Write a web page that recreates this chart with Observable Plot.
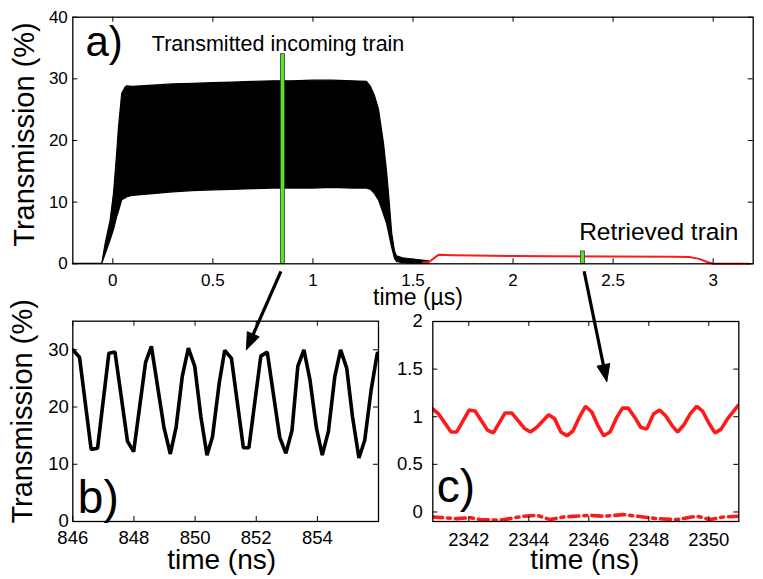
<!DOCTYPE html>
<html><head><meta charset="utf-8">
<script src="https://cdn.jsdelivr.net/npm/d3@7"></script>
<script src="https://cdn.jsdelivr.net/npm/@observablehq/plot@0.6"></script>
<style>
body{margin:0;background:#fff;}
#fig{position:relative;width:763px;height:579px;overflow:hidden;}
#fig > div{position:absolute;}
</style></head><body><div id="fig"></div>
<script>
const FONT = '"Liberation Sans", Arial, Helvetica, sans-serif';

// ---------- panel a (time in µs, transmission in %) ----------
const aTime  = [-0.2, -0.053, -0.036, -0.011, 0.006, 0.022, 0.031, 0.047, 0.064, 0.072, 0.1, 0.2, 0.3, 0.4, 0.5, 0.6, 0.7, 0.8, 0.9, 1.0, 1.1, 1.2, 1.27, 1.29, 1.31, 1.33, 1.355, 1.37, 1.38, 1.396, 1.41, 1.42, 1.45, 1.5, 1.55, 1.58];
const aUpper = [0, 0, 3.2, 7.0, 11.4, 18, 22.2, 27.6, 28.6, 28.8, 28.7, 28.9, 29.1, 29.2, 29.3, 29.4, 29.5, 29.6, 29.6, 29.7, 29.7, 29.6, 29.5, 28.7, 27.2, 25.0, 19.5, 15.0, 11.4, 4.9, 2.0, 1.2, 0.9, 0.7, 0.5, 0.4];
const aLower = [0, 0, 1.5, 3.8, 5.5, 7.6, 8.5, 10.3, 10.6, 10.8, 11.0, 11.3, 11.6, 11.8, 11.9, 12.0, 12.1, 12.2, 12.2, 12.2, 12.3, 12.2, 12.2, 12.0, 11.3, 10.3, 8.0, 6.5, 5.0, 2.6, 0.8, 0.3, 0.1, 0, 0, 0];
const redTime  = [1.55, 1.58, 1.627, 1.7, 1.8, 2.0, 2.2, 2.5, 2.8, 2.88, 2.93, 2.97, 3.0, 3.18];
const redValue = [0.2, 0.3, 1.45, 1.4, 1.35, 1.25, 1.22, 1.2, 1.15, 1.1, 0.8, 0.3, 0, 0];
const markerTime   = [0.85, 2.35];
const markerHeight = [34, 2];
const aXTicks = [0, 0.5, 1, 1.5, 2, 2.5, 3];
const aYTicks = [0, 10, 20, 30, 40];

// ---------- panel b (time in ns) ----------
const bTime  = [846.0, 846.22, 846.6, 846.81, 847.18, 847.38, 847.79, 847.99, 848.38, 848.57, 848.98, 849.19, 849.38, 849.58, 849.78, 849.99, 850.19, 850.39, 850.57, 850.79, 850.97, 851.19, 851.58, 851.76, 852.15, 852.36, 852.77, 852.97, 853.17, 853.36, 853.56, 853.76, 853.97, 854.16, 854.36, 854.57, 854.76, 854.96, 855.15, 855.36, 855.55, 855.76, 855.96];
const bValue = [30.0, 28.7, 12.6, 12.8, 29.4, 29.6, 14.0, 12.2, 27.8, 30.6, 16.5, 11.8, 16.5, 25.3, 30.3, 27.1, 18.3, 11.6, 14.8, 24.2, 29.9, 28.5, 12.9, 12.9, 28.9, 29.6, 14.7, 11.9, 15.9, 27.1, 30.0, 24.7, 16.3, 11.6, 15.7, 25.3, 30.0, 26.8, 18.3, 11.1, 14.2, 23.0, 29.4];
const bXTicks = [846, 848, 850, 852, 854];
const bYTicks = [0, 10, 20, 30];

// ---------- panel c (time in ns) ----------
const cTime  = [2340.79, 2340.99, 2341.41, 2341.6, 2342.01, 2342.21, 2342.62, 2342.82, 2343.21, 2343.43, 2343.85, 2344.05, 2344.27, 2344.66, 2344.86, 2345.07, 2345.27, 2345.47, 2345.68, 2345.89, 2346.1, 2346.3, 2346.5, 2346.71, 2346.91, 2347.12, 2347.32, 2347.54, 2347.73, 2347.93, 2348.16, 2348.36, 2348.56, 2348.77, 2348.96, 2349.16, 2349.38, 2349.6, 2349.79, 2349.99, 2350.21, 2350.41, 2350.63, 2350.98];
const cValue = [1.084, 1.03, 0.84, 0.84, 1.07, 1.06, 0.86, 0.83, 1.04, 1.04, 0.88, 0.84, 0.89, 1.02, 0.98, 0.84, 0.8, 0.85, 0.99, 1.11, 1.05, 0.91, 0.8, 0.84, 0.98, 1.09, 1.09, 0.99, 0.89, 0.87, 1.03, 1.07, 1.01, 0.91, 0.84, 0.91, 1.03, 1.11, 1.06, 0.94, 0.83, 0.87, 0.98, 1.12];
const cDashTime  = [2340.79, 2341.6, 2342.04, 2342.38, 2343.05, 2343.82, 2344.27, 2344.71, 2345.16, 2346.05, 2346.49, 2347.15, 2347.82, 2348.27, 2348.93, 2349.6, 2350.04, 2350.49, 2350.98];
const cDashValue = [-0.052, -0.07, -0.06, -0.08, -0.087, -0.045, -0.035, -0.08, -0.052, -0.035, -0.045, -0.028, -0.052, -0.07, -0.08, -0.045, -0.08, -0.052, -0.045];
const cXTicks = [2342, 2344, 2346, 2348, 2350];
const cYTicks = [0, 0.5, 1, 1.5, 2];

// ---------- arrows: from panel-a time (µs) to a point in panel b / c ----------
const arrowFromTime = [0.84, 2.355];
const arrowToPanel  = ["b", "c"];
const arrowToX      = [851.68, 2346.6];
const arrowToY      = [30, 1.37];

// ---------- helpers ----------
const fig = document.getElementById("fig");
function place(el, left, top, z) {
  const d = document.createElement("div");
  d.style.left = left + "px"; d.style.top = top + "px"; d.style.zIndex = z || 1;
  d.appendChild(el); fig.appendChild(d);
}
const svgStyle = {background: "transparent", fontFamily: FONT, overflow: "visible", maxWidth: "none"};
const plain = d => String(d);

function boxMarks(xTicks, yTicks, innerW, innerH, labelSize, xPad, yPad, frameW) {
  const t = 5;
  return [
    Plot.ruleX(xTicks, {stroke: "black", strokeWidth: 1, insetTop: innerH - t}),
    Plot.ruleX(xTicks, {stroke: "black", strokeWidth: 1, insetBottom: innerH - t}),
    Plot.ruleY(yTicks, {stroke: "black", strokeWidth: 1, insetRight: innerW - t}),
    Plot.ruleY(yTicks, {stroke: "black", strokeWidth: 1, insetLeft: innerW - t}),
    Plot.axisX(xTicks, {anchor: "bottom", tickSize: 0, tickPadding: xPad, fontSize: labelSize, tickFormat: plain, label: null}),
    Plot.axisY(yTicks, {anchor: "left", tickSize: 0, tickPadding: yPad, fontSize: labelSize, tickFormat: plain, label: null}),
    Plot.frame({stroke: "black", strokeWidth: frameW})
  ];
}

// ---------- panel a ----------
const A = {w: 763, h: 320, ml: 72.3, mr: 10.3, mt: 16.7, mb: 56.7};
const aInnerW = A.w - A.ml - A.mr, aInnerH = A.h - A.mt - A.mb;
const envelope = aTime.map((t, i) => ({t, lo: aLower[i], hi: aUpper[i]}));
const redA = redTime.map((t, i) => ({t, v: redValue[i]}));
const markers = markerTime.map((t, i) => ({t, h: markerHeight[i]}));
const plotA = Plot.plot({
  width: A.w, height: A.h, marginLeft: A.ml, marginRight: A.mr, marginTop: A.mt, marginBottom: A.mb,
  style: svgStyle,
  x: {domain: [-0.2, 3.2], label: null},
  y: {domain: [0, 40], label: null},
  marks: [
    Plot.areaY(envelope, {x: "t", y1: "lo", y2: "hi", fill: "black", stroke: "black", strokeWidth: 1.2, curve: "linear"}),
    Plot.lineY(redA, {x: "t", y: "v", stroke: "#ff1a1a", strokeWidth: 2}),
    Plot.rectY(markers, {x1: d => d.t - 0.01, x2: d => d.t + 0.01, y1: 0, y2: "h", fill: "#5ce02a", stroke: "#3c3c3c", strokeWidth: 0.8}),
    ...boxMarks(aXTicks, aYTicks, aInnerW, aInnerH, 17, 10, 5, 1.3),
    Plot.text(["a)"], {frameAnchor: "top-left", dx: 12.7, dy: 38.3, lineAnchor: "bottom", textAnchor: "start", fontSize: 42}),
    Plot.text(["Transmitted incoming train"], {frameAnchor: "top-left", dx: 79, dy: 34, lineAnchor: "bottom", textAnchor: "start", fontSize: 21.5}),
    Plot.text(["Retrieved train"], {frameAnchor: "bottom-right", dx: -14.7, dy: -23.3, lineAnchor: "bottom", textAnchor: "end", fontSize: 24.5}),
    Plot.text(["time (µs)"], {frameAnchor: "bottom", dx: 5, dy: 41.5, lineAnchor: "bottom", textAnchor: "middle", fontSize: 23}),
    Plot.text(["Transmission (%)"], {frameAnchor: "left", dx: -48.3, dy: -6, rotate: -90, lineAnchor: "middle", textAnchor: "middle", fontSize: 29})
  ]
});
place(plotA, 0, 0, 1);

// ---------- panel b ----------
const B = {w: 390, h: 279, ml: 72.3, mr: 12, mt: 20.7, mb: 58, left: 0, top: 300};
const bInnerW = B.w - B.ml - B.mr, bInnerH = B.h - B.mt - B.mb;
const bData = bTime.map((t, i) => ({t, v: bValue[i]}));
const plotB = Plot.plot({
  width: B.w, height: B.h, marginLeft: B.ml, marginRight: B.mr, marginTop: B.mt, marginBottom: B.mb,
  style: svgStyle,
  x: {domain: [846, 856], label: null},
  y: {domain: [0, 35], label: null},
  marks: [
    Plot.lineY(bData, {x: "t", y: "v", stroke: "black", strokeWidth: 3.6, strokeLinejoin: "miter", clip: true}),
    ...boxMarks(bXTicks, bYTicks, bInnerW, bInnerH, 18.5, 9, 4, 1.3),
    Plot.text(["b)"], {frameAnchor: "bottom-left", dx: 5, dy: -9, lineAnchor: "bottom", textAnchor: "start", fontSize: 46}),
    Plot.text(["time (ns)"], {frameAnchor: "bottom", dx: -4, dy: 47, lineAnchor: "bottom", textAnchor: "middle", fontSize: 28}),
    Plot.text(["Transmission (%)"], {frameAnchor: "left", dx: -49.8, dy: -10, rotate: -90, lineAnchor: "middle", textAnchor: "middle", fontSize: 29})
  ]
});
place(plotB, B.left, B.top, 2);

// ---------- panel c ----------
const C = {w: 373, h: 279, ml: 42.3, mr: 24.7, mt: 21, mb: 58, left: 390, top: 300};
const cInnerW = C.w - C.ml - C.mr, cInnerH = C.h - C.mt - C.mb;
const cData = cTime.map((t, i) => ({t, v: cValue[i]}));
const cDash = cDashTime.map((t, i) => ({t, v: cDashValue[i]}));
const plotC = Plot.plot({
  width: C.w, height: C.h, marginLeft: C.ml, marginRight: C.mr, marginTop: C.mt, marginBottom: C.mb,
  style: svgStyle,
  x: {domain: [2340.8, 2351], label: null},
  y: {domain: [-0.1, 2], label: null},
  marks: [
    Plot.lineY(cData, {x: "t", y: "v", stroke: "#ff1a1a", strokeWidth: 3.6, strokeLinejoin: "miter", clip: true}),
    Plot.lineY(cDash, {x: "t", y: "v", stroke: "#ff1a1a", strokeWidth: 3.6, strokeDasharray: "10,5,3,5", clip: true}),
    ...boxMarks(cXTicks, cYTicks, cInnerW, cInnerH, 18.5, 11, 10, 1.3),
    Plot.text(["c)"], {frameAnchor: "bottom-left", dx: 4, dy: -20, lineAnchor: "bottom", textAnchor: "start", fontSize: 46}),
    Plot.text(["time (ns)"], {frameAnchor: "bottom", dx: -1, dy: 47, lineAnchor: "bottom", textAnchor: "middle", fontSize: 28})
  ]
});
place(plotC, C.left, C.top, 2);

// ---------- arrows overlay, endpoints from the panels' own scales ----------
const ax = plotA.scale("x"), ay = plotA.scale("y");
const panels = {b: {p: plotB, left: B.left, top: B.top}, c: {p: plotC, left: C.left, top: C.top}};
const shafts = [], heads = [];
arrowFromTime.forEach((t, i) => {
  const x1 = ax.apply(t), y1 = ay.apply(0) + 7.5;
  const P = panels[arrowToPanel[i]];
  const x2 = P.p.scale("x").apply(arrowToX[i]) + P.left;
  const y2 = P.p.scale("y").apply(arrowToY[i]) + P.top;
  const L = Math.hypot(x2 - x1, y2 - y1), ux = (x2 - x1) / L, uy = (y2 - y1) / L;
  const hl = 17, hw = 6.5;
  const bx = x2 - hl * ux, by = y2 - hl * uy;
  shafts.push({x1, y1, x2: bx + 2 * ux, y2: by + 2 * uy});
  heads.push({id: i, x: x2, y: y2}, {id: i, x: bx - hw * uy, y: by + hw * ux}, {id: i, x: bx + hw * uy, y: by - hw * ux}, {id: i, x: x2, y: y2});
});
const overlay = Plot.plot({
  width: 763, height: 579, margin: 0,
  style: {...svgStyle, pointerEvents: "none"},
  x: {type: "identity", axis: null},
  y: {type: "identity", axis: null},
  marks: [
    Plot.link(shafts, {x1: "x1", y1: "y1", x2: "x2", y2: "y2", stroke: "black", strokeWidth: 3.2}),
    Plot.line(heads, {x: "x", y: "y", z: "id", fill: "black", stroke: "black", strokeWidth: 1})
  ]
});
place(overlay, 0, 0, 5);
</script></body></html>
